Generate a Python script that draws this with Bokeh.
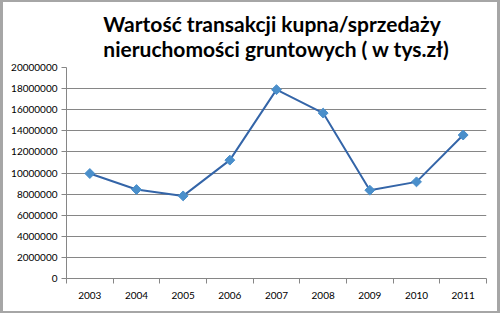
import math
from bokeh.plotting import figure
from bokeh.embed import file_html
from bokeh.resources import INLINE
from bokeh.models import FixedTicker, Range1d, BasicTickFormatter, ColumnDataSource

years = ["2003", "2004", "2005", "2006", "2007", "2008", "2009", "2010", "2011"]
values = [9950000, 8430000, 7830000, 11220000, 17900000, 15680000, 8370000, 9160000, 13600000]
y_ticks = [0, 2000000, 4000000, 6000000, 8000000, 10000000, 12000000, 14000000, 16000000, 18000000, 20000000]

xs = [i + 0.5 for i in range(len(years))]
src = ColumnDataSource(dict(x=xs, y=values))

p = figure(width=500, height=313, output_backend="svg", toolbar_location=None,
           x_range=Range1d(0, len(years)), y_range=Range1d(0, 20000000),
           min_border_left=63, min_border_right=17, min_border_top=64, min_border_bottom=37)

p.title.text = "Wartość transakcji kupna/sprzedaży\nnieruchomości gruntowych ( w tys.zł)"
p.title.align = "center"
p.title.text_font = "Lato"
p.title.text_font_size = "21px"
p.title.text_font_style = "bold"
p.title.text_color = "#000000"
p.title.standoff = 13

p.line("x", "y", source=src, line_color="#3465A8", line_width=2)
p.scatter("x", "y", source=src, marker="square", angle=math.pi / 4, size=7,
          fill_color="#4A8FCB", line_color="#4A8FCB")

p.outline_line_color = None
p.background_fill_color = "white"
p.border_fill_color = "white"

p.xaxis.ticker = FixedTicker(ticks=xs, minor_ticks=list(range(len(years) + 1)))
p.xaxis.major_label_overrides = {x: y for x, y in zip(xs, years)}
p.xaxis.major_tick_out = 0
p.xaxis.major_tick_in = 0
p.xaxis.minor_tick_out = 5
p.xaxis.minor_tick_in = 0
p.xaxis.minor_tick_line_color = "#868686"
p.xaxis.axis_line_color = "#868686"
p.xaxis.major_label_text_font = "Lato"
p.xaxis.major_label_text_font_size = "10px"
p.xaxis.major_label_text_color = "#000000"
p.xaxis.major_label_standoff = 8

p.yaxis.ticker = FixedTicker(ticks=y_ticks)
p.yaxis.formatter = BasicTickFormatter(use_scientific=False)
p.yaxis.major_tick_out = 5
p.yaxis.major_tick_in = 0
p.yaxis.minor_tick_out = 0
p.yaxis.minor_tick_in = 0
p.yaxis.major_tick_line_color = "#868686"
p.yaxis.axis_line_color = "#868686"
p.yaxis.major_label_text_font = "Lato"
p.yaxis.major_label_text_font_size = "10px"
p.yaxis.major_label_text_color = "#000000"
p.yaxis.major_label_standoff = 4

p.xgrid.grid_line_color = None
p.ygrid.ticker = FixedTicker(ticks=y_ticks)
p.ygrid.grid_line_color = "#868686"
p.ygrid.grid_line_width = 1

p.styles = {"border-top": "2px solid #A6A6A6", "border-left": "3px solid #A6A6A6",
            "border-right": "3px solid #A6A6A6", "border-bottom": "2px solid #A6A6A6",
            "box-sizing": "border-box"}

open("out.html", "w").write(file_html(p, INLINE))
